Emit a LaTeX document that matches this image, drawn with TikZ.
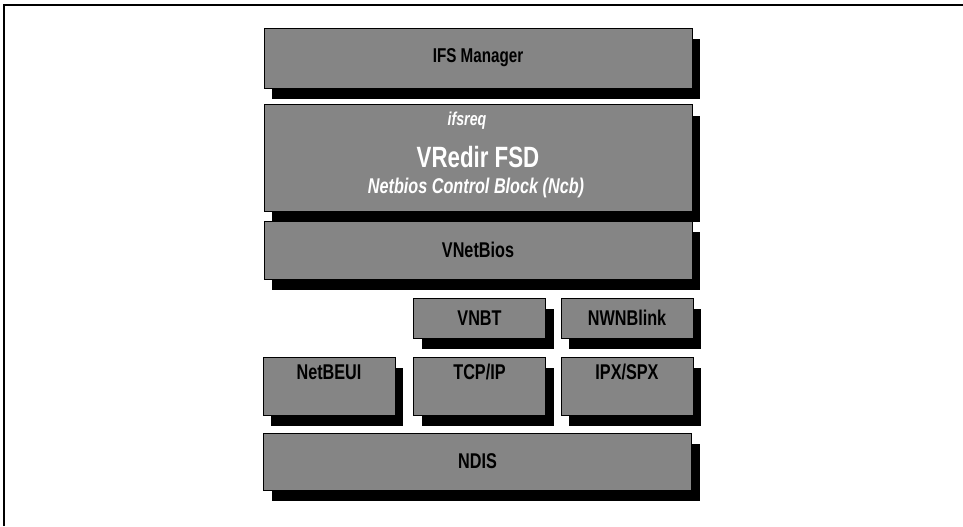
\documentclass[tikz,border=0pt]{standalone}
\usepackage{fontspec}
\usepackage{tikz}
\usetikzlibrary{shadows}
\newfontfamily\layerfont[FakeStretch=0.76]{Liberation Sans}

\begin{document}
\begin{tikzpicture}[x=0.75pt,y=-0.75pt,
  layer/.style={draw=black,fill=black!48,inner sep=0pt,outer sep=0pt,
    font=\layerfont\bfseries\fontsize{16}{18}\selectfont,
    drop shadow={shadow xshift=6pt,shadow yshift=-8.5pt,fill=black,opacity=1}},
  widelayer/.style={layer,minimum width=321pt},
  halflayer/.style={layer,minimum width=99pt,minimum height=30pt},
  tallhalf/.style={halflayer,minimum height=43.5pt,text height=11.5pt,text depth=21pt},
  inlabel/.style={text=white,font=\layerfont\bfseries\itshape\fontsize{16}{18}\selectfont}]
\useasboundingbox (0,0) rectangle (963,526);
\draw[line width=1.4pt] (4,526) -- (4,5) -- (963,5);

\node[widelayer,minimum height=45pt,font=\layerfont\bfseries\fontsize{15}{17}\selectfont] (ifs) at (478,58) {IFS Manager};
\node[widelayer,minimum height=80pt,text=white,font=\layerfont\bfseries\fontsize{22}{24}\selectfont] (vredir) at (478,157.5) {VRedir FSD};
\node[inlabel,font=\layerfont\bfseries\itshape\fontsize{14}{16}\selectfont] (ifsreq) at (467,121) {ifsreq};
\node[inlabel] (ncb) at (476,188) {Netbios Control Block (Ncb)};
\node[widelayer,minimum height=43.5pt] (vnetbios) at (478,250) {VNetBios};

\node[halflayer] (vnbt) at (479.5,318) {VNBT};
\node[halflayer] (nwnblink) at (627,318) {NWNBlink};
\node[tallhalf] (netbeui) at (329,386) {NetBEUI};
\node[tallhalf] (tcpip) at (479.5,386) {TCP/IP};
\node[tallhalf] (ipxspx) at (627,386) {IPX/SPX};

\node[widelayer,minimum height=42.75pt] (ndis) at (477.5,461.5) {NDIS};
\end{tikzpicture}
\end{document}
